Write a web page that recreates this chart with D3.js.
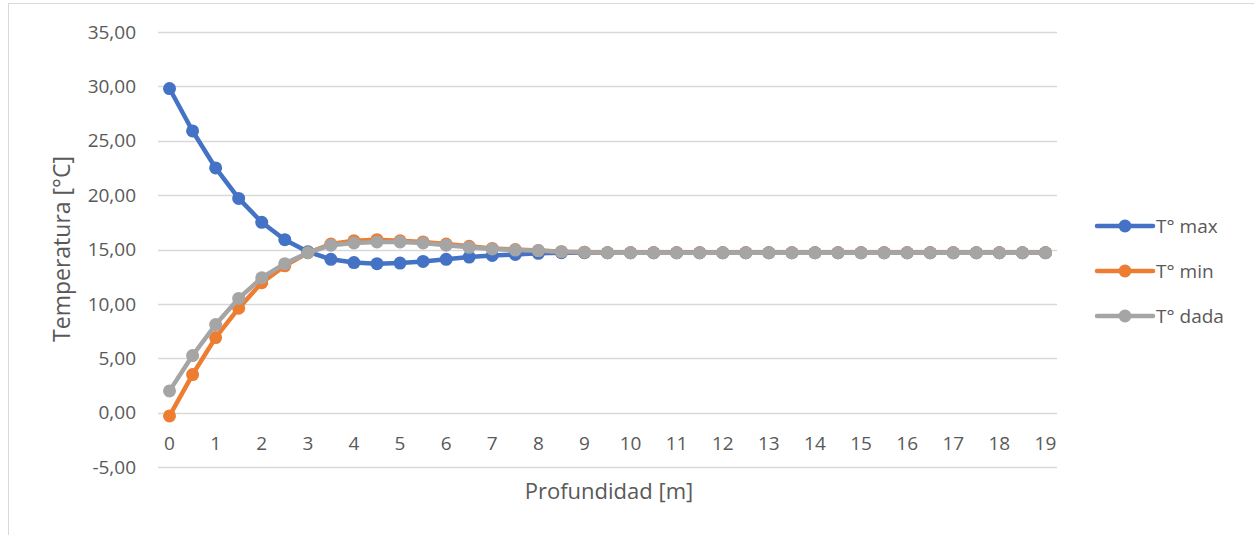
<!DOCTYPE html>
<html>
<head>
<meta charset="utf-8">
<script src="https://cdn.jsdelivr.net/npm/d3@7"></script>
<style>
  body { margin: 0; background: #fff; }
  svg text { font-family: "Open Sans", "Noto Sans", sans-serif; fill: #595959; }
</style>
</head>
<body>
<svg id="main" width="1254" height="535"></svg>
<script>
// Profundidad [m] (categorías cada 0,5 m)
const depths = [0, 0.5, 1, 1.5, 2, 2.5, 3, 3.5, 4, 4.5, 5, 5.5, 6, 6.5, 7, 7.5, 8, 8.5, 9, 9.5,
  10, 10.5, 11, 11.5, 12, 12.5, 13, 13.5, 14, 14.5, 15, 15.5, 16, 16.5, 17, 17.5, 18, 18.5, 19];

// Series de temperatura [°C]
const tMax = [29.8, 25.9, 22.5, 19.7, 17.5, 15.9, 14.8, 14.1, 13.8, 13.7, 13.75, 13.9, 14.1, 14.3, 14.45, 14.55, 14.65, 14.7, 14.7, 14.7,
  14.7, 14.7, 14.7, 14.7, 14.7, 14.7, 14.7, 14.7, 14.7, 14.7, 14.7, 14.7, 14.7, 14.7, 14.7, 14.7, 14.7, 14.7, 14.7];
const tMin = [-0.3, 3.5, 6.9, 9.6, 11.95, 13.5, 14.7, 15.5, 15.8, 15.9, 15.8, 15.7, 15.5, 15.3, 15.1, 15.0, 14.9, 14.8, 14.75, 14.7,
  14.7, 14.7, 14.7, 14.7, 14.7, 14.7, 14.7, 14.7, 14.7, 14.7, 14.7, 14.7, 14.7, 14.7, 14.7, 14.7, 14.7, 14.7, 14.7];
const tDada = [2.0, 5.25, 8.1, 10.5, 12.4, 13.7, 14.7, 15.4, 15.6, 15.7, 15.7, 15.6, 15.4, 15.2, 15.05, 14.95, 14.9, 14.8, 14.75, 14.7,
  14.7, 14.7, 14.7, 14.7, 14.7, 14.7, 14.7, 14.7, 14.7, 14.7, 14.7, 14.7, 14.7, 14.7, 14.7, 14.7, 14.7, 14.7, 14.7];

const yTicks = [-5, 0, 5, 10, 15, 20, 25, 30, 35];
const xLabels = d3.range(0, 20);

const series = [
  { name: 'T° max', values: tMax, color: '#4472C4' },
  { name: 'T° min', values: tMin, color: '#ED7D31' },
  { name: 'T° dada', values: tDada, color: '#A5A5A5' }
];

const svg = d3.select('svg#main');
const plot = { left: 158, right: 1057, top: 32, bottom: 467 };

// Borde del área del gráfico
svg.append('rect')
  .attr('x', 8.5).attr('y', 3.5)
  .attr('width', 1260).attr('height', 560)
  .attr('fill', 'none')
  .attr('stroke', '#d9d9d9');

const x = d3.scaleBand()
  .domain(depths)
  .range([plot.left, plot.right]);

const y = d3.scaleLinear()
  .domain([-5, 35])
  .range([plot.bottom, plot.top]);

const cx = d => x(d) + x.bandwidth() / 2;

// Líneas de cuadrícula
svg.append('g')
  .selectAll('line')
  .data(yTicks)
  .join('line')
  .attr('x1', plot.left).attr('x2', plot.right)
  .attr('y1', d => Math.round(y(d)) + 0.5)
  .attr('y2', d => Math.round(y(d)) + 0.5)
  .attr('stroke', '#d9d9d9')
  .attr('stroke-width', 1.5);

// Etiquetas eje Y (formato con coma decimal y guion simple)
svg.append('g')
  .selectAll('text')
  .data(yTicks)
  .join('text')
  .attr('x', 136)
  .attr('y', d => y(d))
  .attr('dy', '0.35em')
  .attr('text-anchor', 'end')
  .attr('font-size', 19)
  .text(d => d.toFixed(2).replace('.', ','));

// Etiquetas eje X (solo enteros)
svg.append('g')
  .selectAll('text')
  .data(xLabels)
  .join('text')
  .attr('x', d => cx(d))
  .attr('y', y(0) + 37)
  .attr('text-anchor', 'middle')
  .attr('font-size', 19)
  .text(d => d);

// Títulos de ejes
svg.append('text')
  .attr('transform', `translate(70,249) rotate(-90)`)
  .attr('text-anchor', 'middle')
  .attr('font-size', 23)
  .text('Temperatura [°C]');

svg.append('text')
  .attr('x', 609)
  .attr('y', 499)
  .attr('text-anchor', 'middle')
  .attr('font-size', 22)
  .text('Profundidad [m]');

// Series
const line = d3.line()
  .x((d, i) => cx(depths[i]))
  .y(d => y(d));

series.forEach(s => {
  const g = svg.append('g');
  g.append('path')
    .attr('d', line(s.values))
    .attr('fill', 'none')
    .attr('stroke', s.color)
    .attr('stroke-width', 4.5)
    .attr('stroke-linejoin', 'round');
  g.selectAll('circle')
    .data(s.values)
    .join('circle')
    .attr('cx', (d, i) => cx(depths[i]))
    .attr('cy', d => y(d))
    .attr('r', 6.5)
    .attr('fill', s.color);
});

// Leyenda
const legend = svg.append('g')
  .selectAll('g')
  .data(series)
  .join('g')
  .attr('transform', (d, i) => `translate(1097,${226 + i * 45})`);

legend.append('line')
  .attr('x1', 0).attr('x2', 56)
  .attr('stroke', d => d.color)
  .attr('stroke-width', 4.5)
  .attr('stroke-linecap', 'round');

legend.append('circle')
  .attr('cx', 28).attr('r', 6.5)
  .attr('fill', d => d.color);

legend.append('text')
  .attr('x', 59)
  .attr('dy', '0.35em')
  .attr('font-size', 19)
  .text(d => d.name);
</script>
</body>
</html>
